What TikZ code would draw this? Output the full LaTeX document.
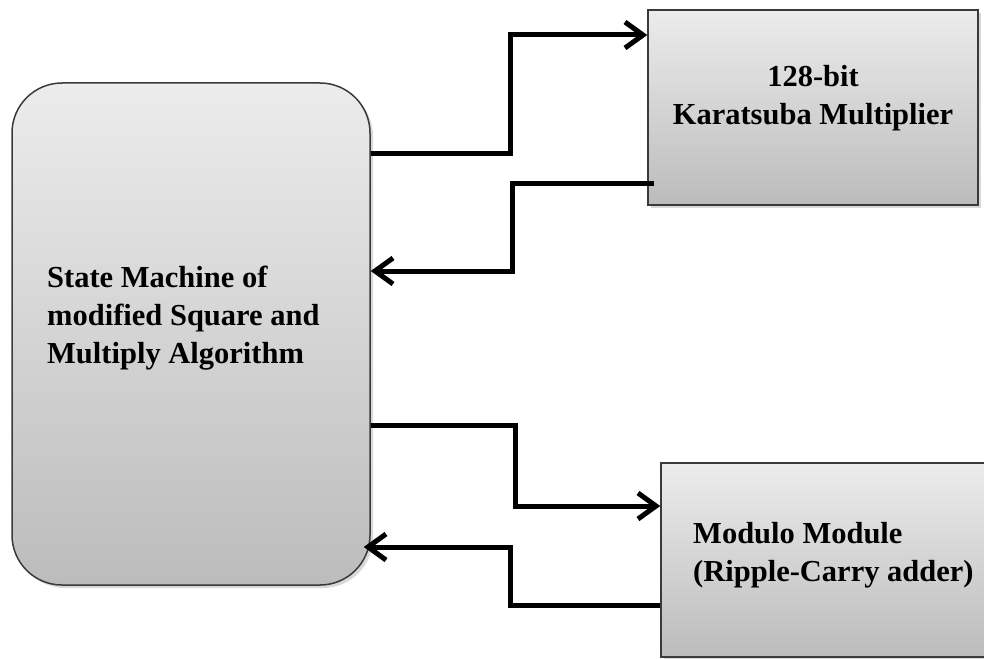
\documentclass[tikz,border=0pt]{standalone}
\usepackage{fontspec}
\setmainfont{Liberation Serif}
\usetikzlibrary{arrows.meta,shadows,calc}
\definecolor{boxtop}{RGB}{236,236,236}
\definecolor{boxbot}{RGB}{188,188,188}
\definecolor{boxline}{RGB}{58,58,58}
\begin{document}
\begin{tikzpicture}[x=1pt,y=-1pt,
  block/.style={draw=boxline, line width=1.5pt, top color=boxtop, bottom color=boxbot,
    drop shadow={shadow xshift=3pt, shadow yshift=-3pt, opacity=0.3}, inner sep=0pt},
  blocktext/.style={font=\fontsize{30.5}{38}\selectfont\bfseries, inner sep=0pt, text=black},
  conn/.style={line width=5pt, -{Straight Barb[length=18pt,width=26pt]}},
]
\clip (0,0) rectangle (984,658);

% blocks
\node[block, rounded corners=50pt, minimum width=358pt, minimum height=502pt] (sm) at (191,334) {};
\node[block, minimum width=330pt, minimum height=195pt] (km) at (813,107.5) {};
\node[block, minimum width=340pt, minimum height=194pt] (mm) at (831,560) {};

% block texts
\node[blocktext, align=left, anchor=west] (smtext) at (47,318)
  {State Machine of\\modified Square and\\Multiply Algorithm};
\node[blocktext, align=center] (kmtext) at (813,98)
  {128-bit\\Karatsuba Multiplier};
\node[blocktext, align=left, anchor=west] (mmtext) at (693,555)
  {Modulo Module\\(Ripple-Carry adder)};

% connectors
\draw[conn] (sm.east |- 0,153) -| (510,35) -- (km.west |- 0,35);
\draw[conn] ($(km.west |- 0,183)+(7,0)$) -| (512,271) -- (sm.east |- 0,271);
\draw[conn] (sm.east |- 0,425) -| (515,506) -- (mm.west |- 0,506);
\draw[conn] (mm.west |- 0,605) -| (510,547) -- ($(sm.east |- 0,547)+(-7,0)$);
\end{tikzpicture}
\end{document}
